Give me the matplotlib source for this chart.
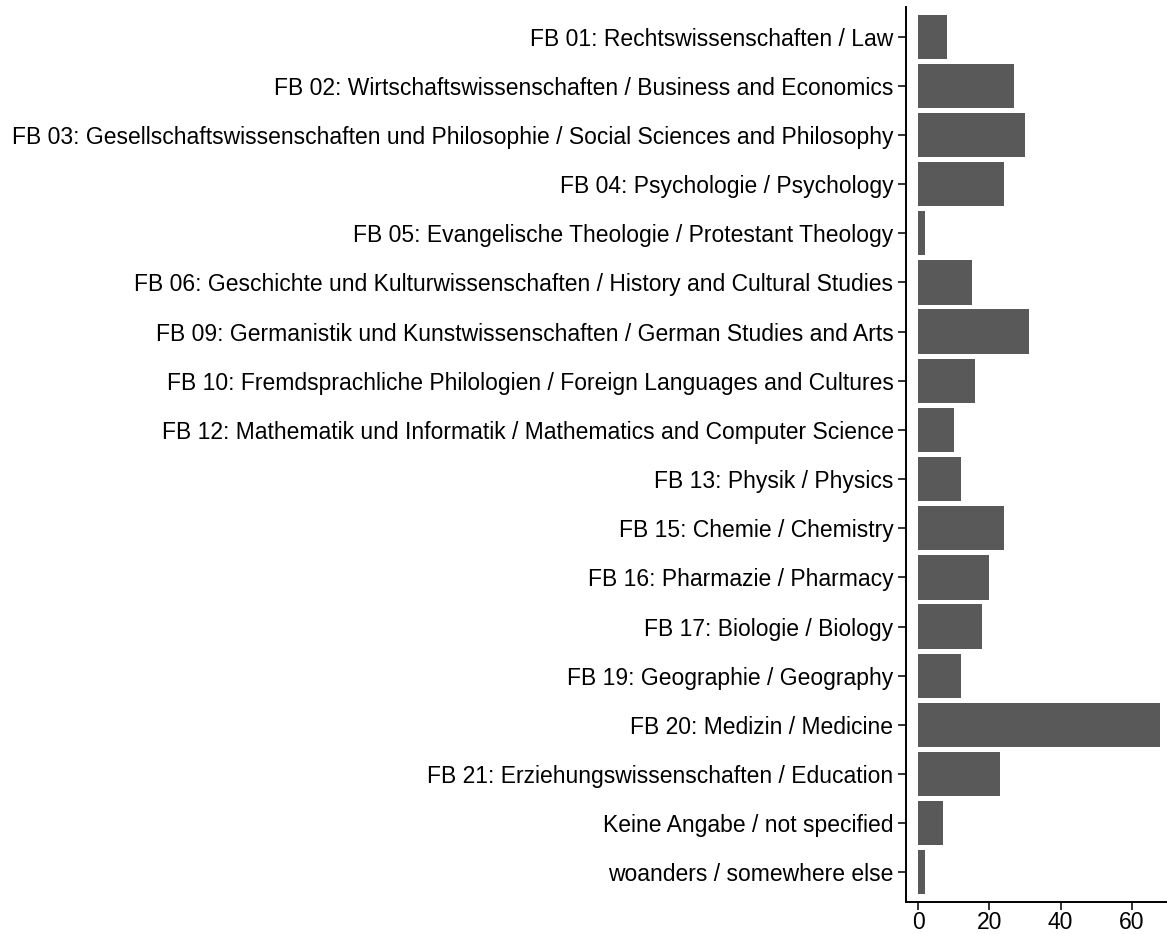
import matplotlib
matplotlib.use("Agg")
import matplotlib.pyplot as plt

categories = [
    "FB 01: Rechtswissenschaften / Law",
    "FB 02: Wirtschaftswissenschaften / Business and Economics",
    "FB 03: Gesellschaftswissenschaften und Philosophie / Social Sciences and Philosophy",
    "FB 04: Psychologie / Psychology",
    "FB 05: Evangelische Theologie / Protestant Theology",
    "FB 06: Geschichte und Kulturwissenschaften / History and Cultural Studies",
    "FB 09: Germanistik und Kunstwissenschaften / German Studies and Arts",
    "FB 10: Fremdsprachliche Philologien / Foreign Languages and Cultures",
    "FB 12: Mathematik und Informatik / Mathematics and Computer Science",
    "FB 13: Physik / Physics",
    "FB 15: Chemie / Chemistry",
    "FB 16: Pharmazie / Pharmacy",
    "FB 17: Biologie / Biology",
    "FB 19: Geographie / Geography",
    "FB 20: Medizin / Medicine",
    "FB 21: Erziehungswissenschaften / Education",
    "Keine Angabe / not specified",
    "woanders / somewhere else",
]
counts = [8, 27, 30, 24, 2, 15, 31, 16, 10, 12, 24, 20, 18, 12, 68, 23, 7, 2]
x_ticks = [0, 20, 40, 60]

plt.rcParams["font.family"] = ["Liberation Sans", "DejaVu Sans"]

W, H = 1167, 934
fig = plt.figure(figsize=(W / 100, H / 100), dpi=100)
left = 906 / W
right = 1166.5 / W
bottom = (H - 901.8) / H
top = (H - 7.2) / H
ax = fig.add_axes([left, bottom, right - left, top - bottom])

n = len(categories)
ypos = list(range(n))
ax.barh(ypos, counts, height=0.9, color="#595959", linewidth=0)
ax.set_ylim(n - 1 + 0.6, -0.6)
ax.set_xlim(-3.4, 69.7)
ax.set_yticks(ypos)
ax.set_yticklabels(categories)
ax.set_xticks(x_ticks)
ax.set_xticklabels([str(v) for v in x_ticks])

for s in ["top", "right"]:
    ax.spines[s].set_visible(False)
for s in ["left", "bottom"]:
    ax.spines[s].set_linewidth(1.4)
    ax.spines[s].set_color("black")

ax.tick_params(axis="both", length=6, width=1.4, color="#333333",
               labelsize=16.5, labelcolor="black")
ax.tick_params(axis="y", pad=3)
ax.tick_params(axis="x", pad=0.5)

fig.savefig("out.png", dpi=100)
